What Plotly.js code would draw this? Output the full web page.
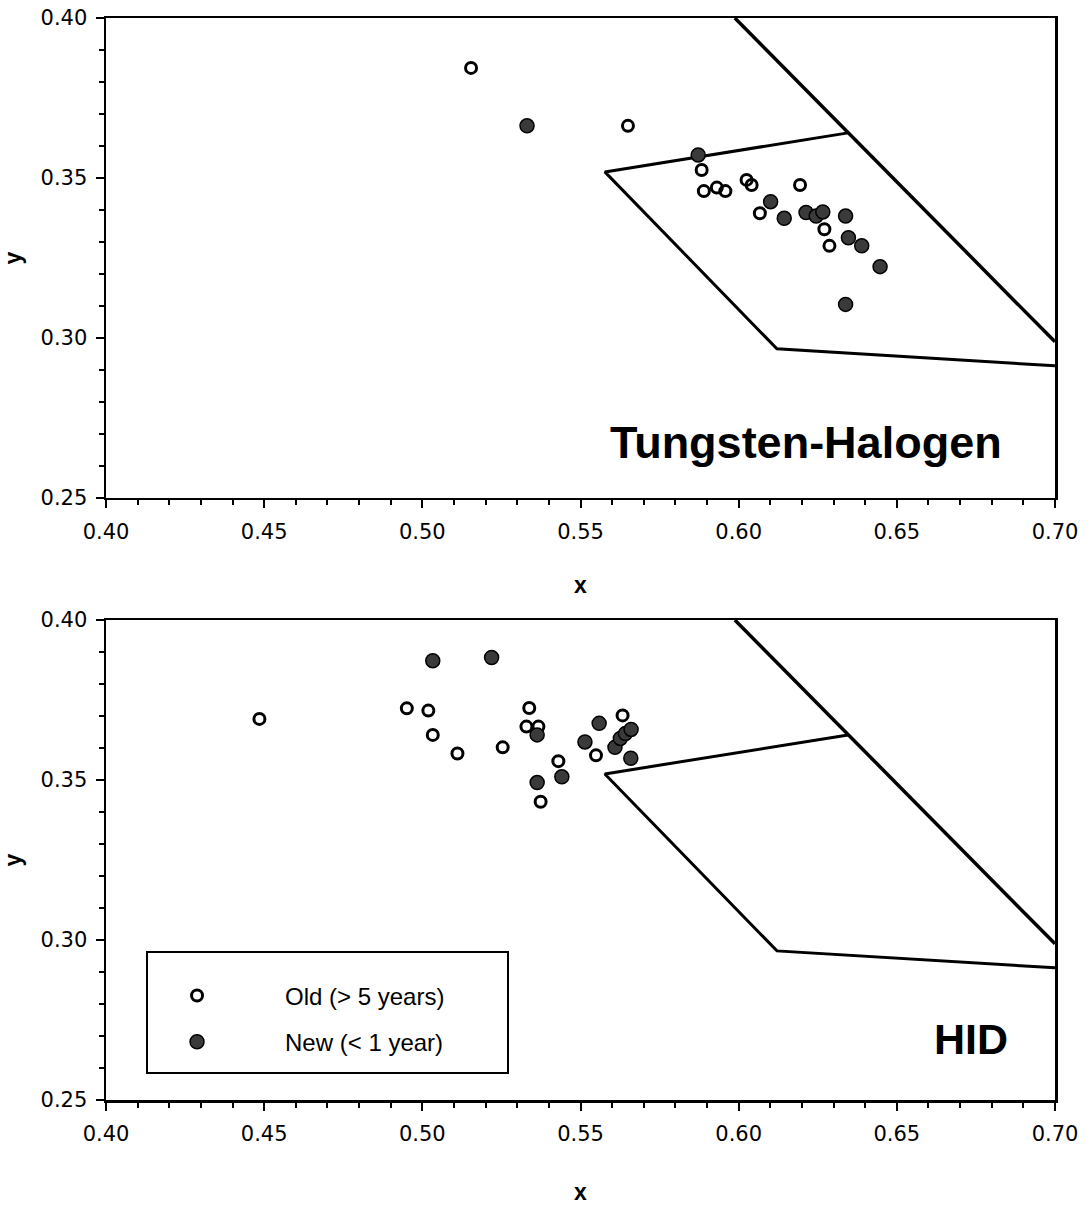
<!DOCTYPE html>
<html>
<head>
<meta charset="utf-8">
<script src="https://cdn.plot.ly/plotly-3.0.1.min.js"></script>
<style>html,body{margin:0;padding:0;background:#fff;}#chart{width:1091px;height:1207px;}</style>
</head>
<body>
<div id="chart"></div>
<script>
// Tungsten-Halogen (top panel)
const thOldX = [0.5154, 0.5650, 0.5883, 0.5890, 0.5931, 0.5958, 0.6025, 0.6041, 0.6067, 0.6194, 0.6271, 0.6287];
const thOldY = [0.3844, 0.3663, 0.3525, 0.3459, 0.3470, 0.3459, 0.3494, 0.3478, 0.3390, 0.3478, 0.3340, 0.3288];
const thNewX = [0.5331, 0.5872, 0.6101, 0.6144, 0.6213, 0.6245, 0.6266, 0.6338, 0.6347, 0.6389, 0.6447, 0.6338];
const thNewY = [0.3663, 0.3572, 0.3426, 0.3374, 0.3392, 0.3381, 0.3394, 0.3381, 0.3313, 0.3288, 0.3223, 0.3105];

// HID (bottom panel)
const hidOldX = [0.4485, 0.4951, 0.5019, 0.5033, 0.5111, 0.5254, 0.5338, 0.5329, 0.5367, 0.5430, 0.5374, 0.5549, 0.5633];
const hidOldY = [0.3691, 0.3724, 0.3717, 0.3641, 0.3583, 0.3602, 0.3725, 0.3667, 0.3667, 0.3559, 0.3432, 0.3577, 0.3702];
const hidNewX = [0.5033, 0.5219, 0.5363, 0.5363, 0.5441, 0.5514, 0.5559, 0.5609, 0.5626, 0.5642, 0.5660, 0.5659];
const hidNewY = [0.3873, 0.3883, 0.3641, 0.3492, 0.3510, 0.3619, 0.3677, 0.3602, 0.3630, 0.3645, 0.3658, 0.3568];

// boundary lines (same in both panels)
const limitX = [0.5988, 0.7000];
const limitY = [0.4000, 0.2988];
const regionX = [0.6346, 0.5577, 0.6121, 0.7000];
const regionY = [0.3641, 0.3519, 0.2966, 0.2913];

const xTickVals = [0.40, 0.45, 0.50, 0.55, 0.60, 0.65, 0.70];
const xTickText = ['0.40', '0.45', '0.50', '0.55', '0.60', '0.65', '0.70'];
const yTickVals = [0.25, 0.30, 0.35, 0.40];
const yTickText = ['0.25', '0.30', '0.35', '0.40'];

const legendNames = ['Old (> 5 years)', 'New (< 1 year)'];
const panelLabels = ['Tungsten-Halogen', 'HID'];

const FONT = 'Liberation Sans, Arial, sans-serif';
const TICKFONT = 'DejaVu Sans, sans-serif';

const oldMarker = {symbol: 'circle-open', size: 11, color: '#000', line: {width: 3, color: '#000'}};
const newMarker = {symbol: 'circle', size: 14, color: '#3a3a3a', line: {width: 1.5, color: '#000'}};

function pts(x, y, marker, xa, ya, name, show) {
  return {type: 'scatter', mode: 'markers', x: x, y: y, marker: marker, xaxis: xa, yaxis: ya,
          name: name, showlegend: show, legendgroup: name, hoverinfo: 'x+y'};
}
function line(x, y, w, xa, ya) {
  return {type: 'scatter', mode: 'lines', x: x, y: y, line: {color: '#000', width: w},
          xaxis: xa, yaxis: ya, showlegend: false, hoverinfo: 'skip'};
}

const data = [
  line(limitX, limitY, 3.5, 'x', 'y'),
  line(regionX, regionY, 3, 'x', 'y'),
  line(limitX, limitY, 3.5, 'x2', 'y2'),
  line(regionX, regionY, 3, 'x2', 'y2'),
  pts(thOldX, thOldY, oldMarker, 'x', 'y', legendNames[0], false),
  pts(thNewX, thNewY, newMarker, 'x', 'y', legendNames[1], false),
  pts(hidOldX, hidOldY, oldMarker, 'x2', 'y2', legendNames[0], true),
  pts(hidNewX, hidNewY, newMarker, 'x2', 'y2', legendNames[1], true)
];

function xax(anchor, standoff) {
  return {
    anchor: anchor, range: [0.40, 0.70], tickmode: 'array', tickvals: xTickVals, ticktext: xTickText,
    ticks: 'outside', ticklen: 8, tickwidth: 2, tickcolor: '#000',
    minor: {dtick: 0.01, tick0: 0.40, ticks: 'outside', ticklen: 5, tickwidth: 2, tickcolor: '#000'},
    showline: true, linecolor: '#000', linewidth: 2.5, mirror: true, showgrid: false, zeroline: false,
    tickfont: {family: TICKFONT, size: 21, color: '#000'}, ticklabelstandoff: 5,
    title: {text: '<b>x</b>', font: {family: FONT, size: 23, color: '#000'}, standoff: standoff},
    automargin: false, fixedrange: true
  };
}
function yax(domain, anchor) {
  return {
    domain: domain, anchor: anchor, range: [0.25, 0.40], tickmode: 'array', tickvals: yTickVals, ticktext: yTickText,
    ticks: 'outside', ticklen: 8, tickwidth: 2, tickcolor: '#000',
    minor: {dtick: 0.01, tick0: 0.25, ticks: 'outside', ticklen: 5, tickwidth: 2, tickcolor: '#000'},
    showline: true, linecolor: '#000', linewidth: 2.5, mirror: true, showgrid: false, zeroline: false,
    tickfont: {family: TICKFONT, size: 21, color: '#000'}, ticklabelstandoff: 4,
    title: {text: '<b>y</b>', font: {family: FONT, size: 23, color: '#000'}, standoff: 14},
    automargin: false, fixedrange: true
  };
}

const layout = {
  width: 1091, height: 1207,
  margin: {l: 106, r: 36, t: 18, b: 107},
  paper_bgcolor: '#fff', plot_bgcolor: '#fff',
  showlegend: true,
  xaxis: xax('y', 34),
  yaxis: yax([0.5564, 1], 'x'),
  xaxis2: xax('y2', 39),
  yaxis2: yax([0, 0.4436], 'x2'),
  legend: {
    x: 0.0032, y: 0.117, xanchor: 'left', yanchor: 'top',
    bgcolor: 'rgba(0,0,0,0)', borderwidth: 0, itemwidth: 166,
    traceorder: 'grouped', tracegroupgap: 12,
    font: {family: FONT, size: 24, color: '#000'}
  },
  shapes: [{
    type: 'rect', xref: 'paper', yref: 'paper',
    x0: 0.0432, x1: 0.4236, y0: 0.0250, y1: 0.1368,
    line: {color: '#000', width: 2}, fillcolor: 'rgba(0,0,0,0)', layer: 'below'
  }],
  annotations: [
    {text: '<b>' + panelLabels[0] + '</b>', xref: 'x', yref: 'y', x: 0.6213, y: 0.2672,
     showarrow: false, xanchor: 'center', yanchor: 'middle', font: {family: FONT, size: 45, color: '#000'}},
    {text: '<b>' + panelLabels[1] + '</b>', xref: 'x2', yref: 'y2', x: 0.6734, y: 0.2690,
     showarrow: false, xanchor: 'center', yanchor: 'middle', font: {family: FONT, size: 43, color: '#000'}}
  ]
};

Plotly.newPlot('chart', data, layout, {staticPlot: true, displayModeBar: false});
</script>
</body>
</html>
